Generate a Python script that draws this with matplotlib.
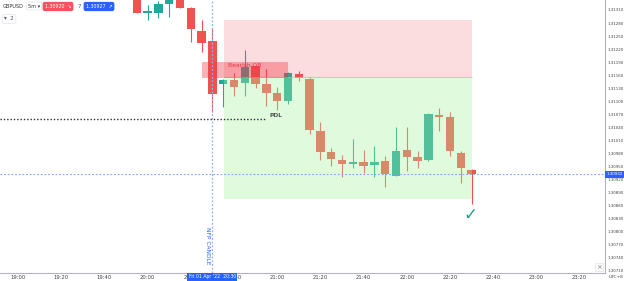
import matplotlib
matplotlib.use("Agg")
import matplotlib.pyplot as plt
import matplotlib.transforms as mtransforms
from matplotlib.patches import Rectangle

# GBPUSD 5m candles (UTC+8)
times = ["19:55", "20:00", "20:05", "20:10", "20:15", "20:20", "20:25", "20:30",
         "20:35", "20:40", "20:45", "20:50", "20:55", "21:00", "21:05", "21:10",
         "21:15", "21:20", "21:25", "21:30", "21:35", "21:40", "21:45", "21:50",
         "21:55", "22:00", "22:05", "22:10", "22:15", "22:20", "22:25", "22:30"]
opens = [1.31345, 1.31303, 1.31304, 1.31324, 1.31340, 1.31315, 1.31262, 1.31239,
         1.31140, 1.31149, 1.31141, 1.31181, 1.31140, 1.31120, 1.31101, 1.31163,
         1.31151, 1.31032, 1.30984, 1.30965, 1.30955, 1.30960, 1.30952, 1.30962,
         1.30928, 1.30988, 1.30972, 1.30965, 1.31068, 1.31064, 1.30981, 1.30942]
highs = [1.31350, 1.31322, 1.31330, 1.31345, 1.31345, 1.31318, 1.31287, 1.31268,
         1.31150, 1.31164, 1.31218, 1.31183, 1.31174, 1.31132, 1.31167, 1.31170,
         1.31155, 1.31051, 1.30992, 1.30976, 1.31013, 1.30987, 1.30998, 1.30975,
         1.31041, 1.31040, 1.30985, 1.31072, 1.31084, 1.31074, 1.30986, 1.30943]
lows = [1.31304, 1.31287, 1.31291, 1.31293, 1.31314, 1.31237, 1.31214, 1.31076,
        1.31087, 1.31112, 1.31112, 1.31130, 1.31089, 1.31080, 1.31094, 1.31147,
        1.31025, 1.30965, 1.30951, 1.30926, 1.30946, 1.30934, 1.30925, 1.30903,
        1.30928, 1.30939, 1.30947, 1.30963, 1.31032, 1.30975, 1.30912, 1.30863]
closes = [1.31304, 1.31305, 1.31324, 1.31340, 1.31314, 1.31266, 1.31233, 1.31116,
          1.31149, 1.31132, 1.31179, 1.31140, 1.31120, 1.31101, 1.31166, 1.31154,
          1.31034, 1.30984, 1.30966, 1.30955, 1.30960, 1.30951, 1.30961, 1.30932,
          1.30986, 1.30972, 1.30963, 1.31070, 1.31063, 1.30986, 1.30946, 1.30932]

tick_times = ["19:00", "19:20", "19:40", "20:00", "20:20", "20:40", "21:00",
              "21:20", "21:40", "22:00", "22:20", "22:40", "23:00", "23:20"]
price_ticks = [1.31310, 1.31280, 1.31250, 1.31220, 1.31190, 1.31160, 1.31130,
               1.31100, 1.31070, 1.31040, 1.31010, 1.30980, 1.30950, 1.30920,
               1.30890, 1.30860, 1.30830, 1.30800, 1.30770, 1.30740, 1.30710]

# short position tool
stop_level = 1.31287
entry_level = 1.31155
target_level = 1.30876
# bearish order block
ob_top = 1.31191
ob_bottom = 1.31154
# previous day low
pdl_level = 1.31059
last_price = 1.30932

UP = "#26a69a"
DOWN = "#ef5350"


def idx(t):
    h, m = t.split(":")
    return ((int(h) - 19) * 60 + int(m)) / 5.0


xs = [idx(t) for t in times]

fig = plt.figure(figsize=(6.24, 2.81), dpi=100)
ax = fig.add_axes([0, 7.7 / 281, 605 / 624, 273.3 / 281])
ax.set_xlim(-1.667, 54.35)
ax.set_ylim(1.307038, 1.313330)

# candles
for x, o, h, l, c in zip(xs, opens, highs, lows, closes):
    col = UP if c >= o else DOWN
    ax.vlines(x, l, h, color=col, lw=0.8, zorder=2)
    body = max(abs(c - o), 0.00005)
    ax.bar(x, body, bottom=min(o, c), width=0.77, color=col, lw=0, zorder=2)

# position boxes drawn over the candles
box_l = idx("20:35") + 0.03
box_r = idx("22:30")
ax.add_patch(Rectangle((box_l, entry_level), box_r - box_l, stop_level - entry_level,
                       fc="#f23645", alpha=0.17, lw=0, zorder=3))
ax.add_patch(Rectangle((box_l, target_level), box_r - box_l, entry_level - target_level,
                       fc="#a6f19b", alpha=0.35, lw=0, zorder=3))
ax.hlines(entry_level, box_l, box_r, color="#e8a0a0", lw=0.5, zorder=3)

# bearish OB
ob_l = idx("20:25")
ob_r = idx("21:05")
ax.add_patch(Rectangle((ob_l, ob_bottom), ob_r - ob_l, ob_top - ob_bottom,
                       fc="#f23645", alpha=0.38, lw=0, zorder=4))
ax.text((ob_l + ob_r) / 2, ob_top - 0.00008, "Bearish OB", fontsize=4.3,
        color="#e23a4c", ha="center", va="center", zorder=5)

# PDL
ax.hlines(pdl_level, -1.667, 22.9, color="#2a2e39", lw=1.0,
          linestyles=(0, (1, 1.4)), zorder=4)
ax.text(23.3, pdl_level + 0.00008, "PDL", fontsize=4.3, color="#555555",
        fontweight="bold", ha="left", va="center", zorder=5)

# NFP vertical line
nfp = idx("20:30")
ax.axvline(nfp, color="#8fb4e6", lw=0.9, ls=(0, (1.5, 1.5)), zorder=4)
ax.text(nfp - 0.45, 1.30767, "NFP CANDLE", rotation=270, fontsize=4.2,
        color="#2962ff", ha="center", va="center", zorder=5)

# last price line
ax.axhline(last_price, color="#79a7ef", lw=0.8, ls=(0, (1.5, 1.8)), zorder=4)

# check mark
ax.text(41.85, 1.30838, "\u2713", fontsize=12, color="#1f9e89",
        ha="center", va="center", fontweight="bold", zorder=6)

# axes styling
for s in ["top", "left"]:
    ax.spines[s].set_visible(False)
for s in ["right", "bottom"]:
    ax.spines[s].set_color("#b2b5be")
    ax.spines[s].set_linewidth(0.8)
ax.yaxis.tick_right()
ax.set_yticks(price_ticks)
ax.set_yticklabels([f"{p:.5f}" for p in price_ticks])
ax.tick_params(axis="y", length=0, pad=1.5, labelsize=2.9, labelcolor="#444444")
ax.set_xticks([idx(t) for t in tick_times])
ax.set_xticklabels(tick_times)
ax.tick_params(axis="x", length=0, pad=1.2, labelsize=3.8, labelcolor="#444444")

# price tag and time tag
ytr = mtransforms.blended_transform_factory(ax.transAxes, ax.transData)
ax.text(1.002, last_price, f"{last_price:.5f}", transform=ytr, fontsize=2.9,
        color="white", ha="left", va="center", clip_on=False, zorder=10,
        bbox=dict(boxstyle="square,pad=0.35", fc="#2962ff", ec="none"))
xtr = mtransforms.blended_transform_factory(ax.transData, ax.transAxes)
ax.text(nfp, -0.0135, "Fri 01 Apr '22  20:30", transform=xtr, fontsize=3.3,
        color="white", ha="center", va="center", clip_on=False, zorder=10,
        bbox=dict(boxstyle="square,pad=0.3", fc="#2962ff", ec="none"))
fig.text(616 / 624, 1 - 277 / 281, "UTC+8", fontsize=3.2, color="#444444",
         ha="center", va="center")
fig.text(599 / 624, 1 - 267 / 281, "\u00d7", fontsize=5, color="#888888",
         ha="center", va="center",
         bbox=dict(boxstyle="square,pad=0.2", fc="white", ec="#dddddd", lw=0.4))

# toolbar overlay top-left
fig.text(3 / 624, 1 - 6 / 281, "GBPUSD", fontsize=3.6, color="#333333",
         ha="left", va="center")
fig.text(34 / 624, 1 - 6 / 281, "5m \u25be", fontsize=3.6, color="#333333",
         ha="center", va="center",
         bbox=dict(boxstyle="round,pad=0.3", fc="white", ec="#e0e3eb", lw=0.5))
fig.text(58 / 624, 1 - 6.5 / 281, "1.30920  \u2198", fontsize=3.4, color="white",
         ha="center", va="center",
         bbox=dict(boxstyle="round,pad=0.45", fc="#f7525f", ec="none"))
fig.text(79 / 624, 1 - 6 / 281, "7", fontsize=4, color="#555555",
         ha="center", va="center")
fig.text(99 / 624, 1 - 6.5 / 281, "1.30927  \u2197", fontsize=3.4, color="white",
         ha="center", va="center",
         bbox=dict(boxstyle="round,pad=0.45", fc="#2962ff", ec="none"))
fig.text(9 / 624, 1 - 19 / 281, "\u25be  2", fontsize=4, color="#555555",
         ha="center", va="center",
         bbox=dict(boxstyle="round,pad=0.35", fc="white", ec="#e0e3eb", lw=0.5))

fig.savefig("out.png", dpi=100, facecolor="white")
